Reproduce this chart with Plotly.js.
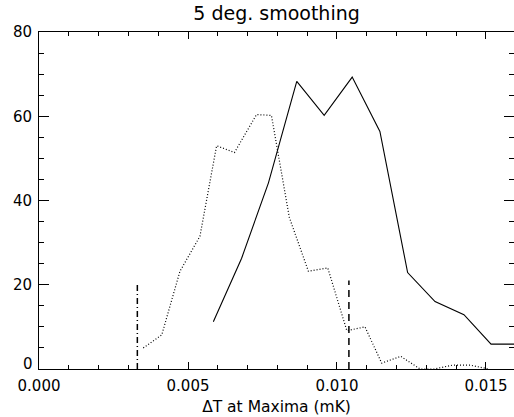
<!DOCTYPE html>
<html>
<head>
<meta charset="utf-8">
<script src="https://cdn.plot.ly/plotly-3.0.1.min.js"></script>
<style>html,body{margin:0;padding:0;background:#fff;}#chart{width:514px;height:417px;}</style>
</head>
<body>
<div id="chart"></div>
<script>
// Solid curve
const solidX = [0.00585, 0.0068, 0.0077, 0.00865, 0.00957, 0.01051, 0.01144, 0.01237, 0.01329, 0.01426, 0.01517, 0.0161];
const solidY = [11.2, 26.3, 44.2, 68.3, 60.2, 69.3, 56.4, 22.9, 16.0, 12.9, 5.9, 5.9];
// Dotted curve
const dottedX = [0.0035, 0.00412, 0.00473, 0.0054, 0.00596, 0.00656, 0.0073, 0.0078, 0.0084, 0.00904, 0.00969, 0.01033, 0.01094, 0.0115, 0.01214, 0.01279, 0.01326, 0.01387, 0.01448, 0.01509];
const dottedY = [5.0, 8.1, 23.2, 31.5, 53.0, 51.4, 60.4, 60.2, 36.0, 23.2, 24.0, 9.1, 10.0, 1.4, 3.0, 0, 0, 0.9, 0.9, 0];
// Vertical markers
const dashDotX = 0.0033, dashDotTop = 20;
const dashedX = 0.0104, dashedTop = 21;
// Axis settings
const xRange = [0, 0.01594];
const yRange = [0, 80];
const yTickVals = [20, 40, 60, 80];
const yTickText = ['20', '40', '60', '80'];
const yZeroLabel = '0';
const titleText = "5 deg. smoothing";
const xTitleText = "ΔT at Maxima (mK)";

const font = "DejaVu Sans, sans-serif";
const traces = [
  {x: solidX, y: solidY, mode: 'lines', line: {color: '#000', width: 1.1}, hoverinfo: 'skip'},
  {x: dottedX, y: dottedY, mode: 'lines', line: {color: '#000', width: 1.2, dash: '1px,2px'}, hoverinfo: 'skip'},
  {x: [dashDotX, dashDotX], y: [0, dashDotTop], mode: 'lines', line: {color: '#000', width: 1.5, dash: '6px,3px,1px,3px'}, hoverinfo: 'skip'},
  {x: [dashedX, dashedX], y: [0, dashedTop], mode: 'lines', line: {color: '#000', width: 1.5, dash: '7px,5px'}, hoverinfo: 'skip'}
];
const layout = {
  width: 514, height: 417,
  margin: {l: 39, r: 0, t: 32, b: 48},
  paper_bgcolor: '#fff', plot_bgcolor: '#fff',
  showlegend: false,
  title: {text: titleText, font: {family: font, size: 19, color: '#000'}, x: 0.538, xanchor: 'center', y: 0.985, yanchor: 'top'},
  xaxis: {
    range: xRange, showgrid: false, zeroline: false,
    showline: true, linecolor: '#000', linewidth: 1, mirror: 'ticks',
    ticks: 'inside', ticklen: 7, tickwidth: 1, tickcolor: '#000',
    dtick: 0.005, tick0: 0, tickformat: '.3f', ticklabelstandoff: 3,
    minor: {dtick: 0.001, ticks: 'inside', ticklen: 4, tickcolor: '#000', tickwidth: 1},
    tickfont: {family: font, size: 15, color: '#000'},
    title: {text: xTitleText, font: {family: font, size: 15.5, color: '#000'}, standoff: 7}
  },
  yaxis: {
    range: yRange, showgrid: false, zeroline: false,
    showline: true, linecolor: '#000', linewidth: 1, mirror: 'ticks',
    ticks: 'inside', ticklen: 10, tickwidth: 1, tickcolor: '#000',
    tickmode: 'array', tickvals: [0].concat(yTickVals), ticktext: [''].concat(yTickText),
    ticklabelstandoff: 3,
    minor: {dtick: 5, ticks: 'inside', ticklen: 5, tickcolor: '#000', tickwidth: 1},
    tickfont: {family: font, size: 15, color: '#000'}
  },
  annotations: [{
    text: yZeroLabel, xref: 'paper', yref: 'y', x: 0, y: 0, xanchor: 'right', yanchor: 'middle',
    xshift: -4, yshift: 5, showarrow: false, font: {family: font, size: 15, color: '#000'}
  }]
};
Plotly.newPlot('chart', traces, layout, {displayModeBar: false, staticPlot: true});
</script>
</body>
</html>
